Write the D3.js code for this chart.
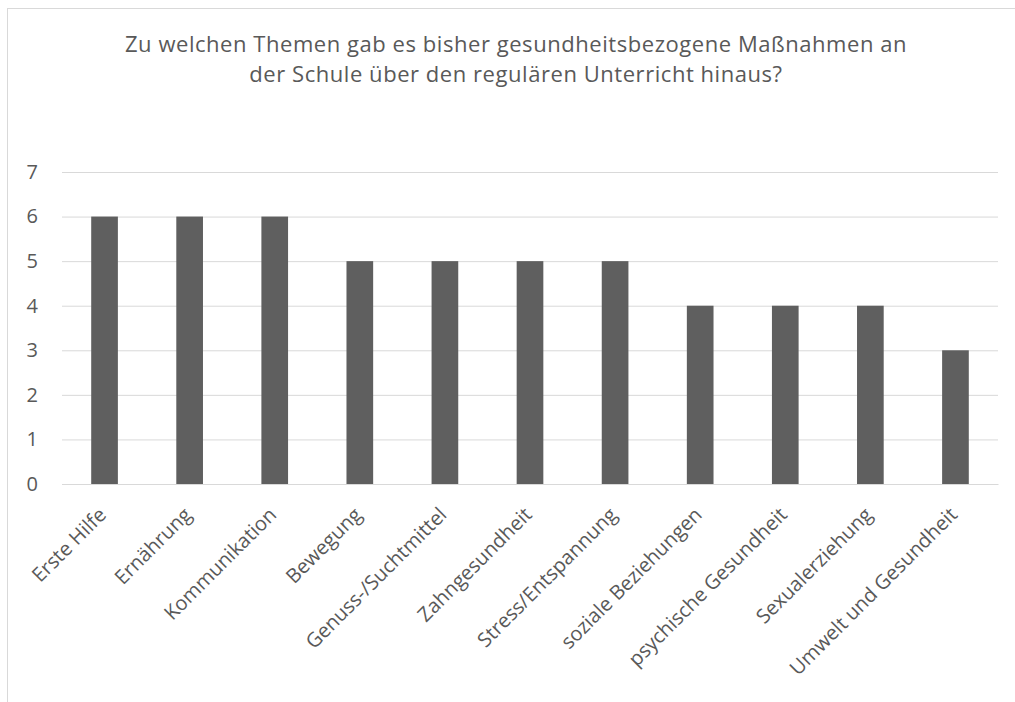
<!DOCTYPE html>
<html>
<head>
<meta charset="utf-8">
<script src="https://cdn.jsdelivr.net/npm/d3@7"></script>
<style>
  body { margin: 0; background: #fff; }
  text { font-family: "Open Sans", sans-serif; fill: #595959; }
</style>
</head>
<body>
<div id="chart"></div>
<script>
var svgWidth = 1015;
var svgHeight = 702;

var margin = { top: 172, right: 17, bottom: 218, left: 62 };
var width = svgWidth - margin.left - margin.right;
var height = svgHeight - margin.top - margin.bottom;

// Data
var topics = ["Erste Hilfe", "Ernährung", "Kommunikation", "Bewegung", "Genuss-/Suchtmittel",
  "Zahngesundheit", "Stress/Entspannung", "soziale Beziehungen", "psychische Gesundheit",
  "Sexualerziehung", "Umwelt und Gesundheit"];
var counts = [6, 6, 6, 5, 5, 5, 5, 4, 4, 4, 3];
var yTicks = [0, 1, 2, 3, 4, 5, 6, 7];
var titleLines = ["Zu welchen Themen gab es bisher gesundheitsbezogene Maßnahmen an",
  "der Schule über den regulären Unterricht hinaus?"];

var svg = d3.select("#chart")
  .append("svg")
  .attr("width", svgWidth)
  .attr("height", svgHeight);

// chart border (runs off the picture on the right and bottom)
svg.append("rect")
  .attr("x", 7.5)
  .attr("y", 8.5)
  .attr("width", 1040)
  .attr("height", 720)
  .attr("fill", "none")
  .attr("stroke", "#d9d9d9");

// title, one text per line
svg.selectAll(".title")
  .data(titleLines)
  .enter()
  .append("text")
  .attr("class", "title")
  .attr("x", 516)
  .attr("y", (d, i) => 52 + i * 30)
  .attr("text-anchor", "middle")
  .style("font-size", "22px")
  .style("letter-spacing", "0.55px")
  .text(d => d);

var chartGroup = svg.append("g")
  .attr("transform", `translate(${margin.left}, ${margin.top})`);

var xScale = d3.scaleBand()
  .domain(topics)
  .range([0, width])
  .padding(0);

var yScale = d3.scaleLinear()
  .domain([0, 7])
  .range([height, 0]);

// gridlines
var leftAxis = d3.axisLeft(yScale)
  .tickValues(yTicks)
  .tickSize(-width)
  .tickPadding(24)
  .tickFormat(d3.format("d"));

var yAxisG = chartGroup.append("g").call(leftAxis);
yAxisG.select(".domain").remove();
yAxisG.selectAll(".tick line").attr("stroke", "#d9d9d9");
yAxisG.selectAll(".tick text")
  .style("font-size", "20px")
  .attr("fill", "#595959");

// bars (gap width ~219%)
var barWidth = xScale.bandwidth() / 3.19;
chartGroup.selectAll(".bar")
  .data(counts)
  .enter()
  .append("rect")
  .attr("class", "bar")
  .attr("x", (d, i) => xScale(topics[i]) + (xScale.bandwidth() - barWidth) / 2)
  .attr("y", d => yScale(d))
  .attr("width", barWidth)
  .attr("height", d => height - yScale(d))
  .attr("fill", "#5f5f5f");

// x axis
var bottomAxis = d3.axisBottom(xScale).tickSize(0).tickPadding(0);
var xAxisG = chartGroup.append("g")
  .attr("transform", `translate(0, ${height})`)
  .call(bottomAxis);
xAxisG.select(".domain").attr("stroke", "#d9d9d9");
xAxisG.selectAll(".tick text")
  .style("font-size", "20px")
  .attr("fill", "#595959")
  .attr("text-anchor", "end")
  .attr("dy", 0)
  .attr("y", 0)
  .attr("transform", "translate(3, 32) rotate(-45)");
</script>
</body>
</html>
